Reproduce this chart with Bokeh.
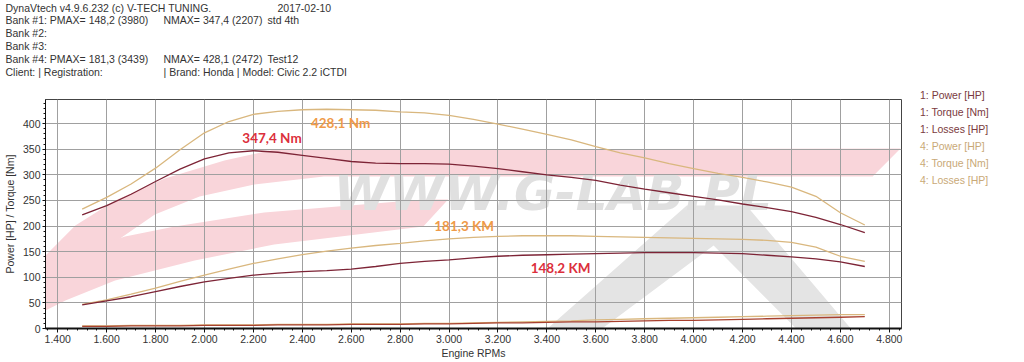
from bokeh.plotting import figure
from bokeh.models import Range1d, FixedTicker, Label, Legend, LegendItem
from bokeh.layouts import column, row
from bokeh.core.properties import value
from bokeh.embed import file_html
from bokeh.resources import INLINE

# ---------------- data ----------------
rpm = [1500, 1600, 1700, 1800, 1900, 2000, 2100, 2200, 2300, 2400, 2500,
       2600, 2700, 2800, 2900, 3000, 3100, 3200, 3300, 3400, 3500, 3600,
       3700, 3800, 3900, 4000, 4100, 4200, 4300, 4400, 4500, 4600, 4700]

power_1 = [46, 54, 62, 72, 82, 91, 98, 104, 108, 111, 113, 116, 121, 127, 131, 134,
           138, 141, 143, 144, 145, 146, 147, 148, 148, 148, 147, 146, 143, 140, 136, 130, 121]
torque_1 = [222, 240, 262, 287, 311, 331, 343, 347, 344, 338, 332, 326, 323, 322, 322, 321,
            317, 312, 306, 300, 295, 289, 280, 272, 265, 258, 251, 243, 236, 228, 217, 203, 187]
losses_1 = [4, 4, 5, 5, 5, 6, 6, 6, 7, 7, 7, 8, 8, 8, 9, 9, 10, 11, 11, 12, 13, 13,
            14, 15, 16, 16, 17, 18, 19, 20, 21, 22, 23]

power_4 = [47, 56, 67, 79, 92, 104, 116, 127, 136, 144, 151, 157, 162, 166, 171, 175,
           178, 180, 181, 181, 181, 180, 179, 178, 177, 176, 175, 174, 172, 168, 159, 141, 131]
torque_4 = [233, 256, 282, 313, 349, 382, 404, 418, 424, 427, 428, 427, 426, 423, 421, 416,
            408, 399, 389, 379, 368, 355, 343, 333, 322, 312, 303, 295, 286, 276, 258, 226, 202]
losses_4 = [5, 5, 6, 6, 6, 7, 7, 7, 8, 8, 8, 9, 9, 9, 10, 10, 11, 12, 13, 14, 15, 17,
            18, 19, 20, 21, 22, 23, 24, 25, 26, 27, 27]

x_ticks = [1400, 1600, 1800, 2000, 2200, 2400, 2600, 2800, 3000, 3200, 3400,
           3600, 3800, 4000, 4200, 4400, 4600, 4800]
x_tick_labels = ["1.400", "1.600", "1.800", "2.000", "2.200", "2.400", "2.600", "2.800", "3.000",
                 "3.200", "3.400", "3.600", "3.800", "4.000", "4.200", "4.400", "4.600", "4.800"]
y_ticks = [0, 50, 100, 150, 200, 250, 300, 350, 400]

legend_1 = ["1: Power [HP]", "1: Torque [Nm]", "1: Losses [HP]"]
legend_4 = ["4: Power [HP]", "4: Torque [Nm]", "4: Losses [HP]"]

header_lines = [
    ["DynaVtech v4.9.6.232 (c) V-TECH TUNING.", "", "2017-02-10"],
    ["Bank #1: PMAX= 148,2 (3980)", "NMAX= 347,4 (2207)", "std 4th"],
    ["Bank #2:", "", ""],
    ["Bank #3:", "", ""],
    ["Bank #4: PMAX= 181,3 (3439)", "NMAX= 428,1 (2472)", "Test12"],
    ["Client:  | Registration:", "| Brand: Honda | Model: Civic 2.2 iCTDI", ""],
]

peak_labels = ["347,4 Nm", "428,1 Nm", "181,3 KM", "148,2 KM"]

# decorative watermark outline (window pixels)
wm_pink_a_x = [40, 70, 110, 160, 220, 270, 900, 872, 320, 250, 195, 150, 115, 85, 60, 40]
wm_pink_a_y = [255, 225, 200, 178, 160, 149, 148, 176, 176, 184, 196, 214, 238, 265, 292, 305]
wm_pink_b_x = [40, 120, 170, 260, 420, 445, 420, 270, 190, 110, 60, 40]
wm_pink_b_y = [262, 236, 226, 212, 199, 199, 226, 244, 260, 280, 300, 310]
wm_grey_x = [545, 685, 745, 850, 795, 712, 600]
wm_grey_y = [328, 205, 205, 328, 328, 245, 328]

# ---------------- geometry (window pixels) ----------------
TOTAL_W, TOTAL_H = 1024, 362
HEAD_H = 86
MAIN_W = 903
FL, FT, FR, FB = 40, 99, 901, 328
X0, X1, Y0, Y1 = 1350, 4850, 0, 447


def wx(xw):
    return X0 + (xw - FL) * (X1 - X0) / (FR - FL)


def wy(yw):
    return Y0 + (FB - yw) * (Y1 - Y0) / (FB - FT)


FONT = "'Liberation Sans', Arial, sans-serif"
TXT = "#333333"

# ---------------- header ----------------
hdr = figure(width=MAIN_W, height=HEAD_H, x_range=Range1d(0, MAIN_W), y_range=Range1d(HEAD_H, 0),
             output_backend="svg", toolbar_location=None, title=None,
             x_axis_location=None, y_axis_location=None, min_border=0)
hdr.grid.visible = False
hdr.outline_line_color = None
col_x = [5, 163, 267]
hx, hy, ht = [], [], []
for i, r in enumerate(header_lines):
    for j, t in enumerate(r):
        if t:
            hx.append(277 if (i == 0 and j == 2) else col_x[j])
            hy.append(7 + 12.9 * i)
            ht.append(t)
hdr.text(x=hx, y=hy, text=ht, text_font=value(FONT), text_font_size="10.5px",
         text_color=TXT, text_baseline="middle", text_align="left")

# ---------------- main plot ----------------
MAIN_H = TOTAL_H - HEAD_H
p = figure(width=MAIN_W, height=MAIN_H, x_range=Range1d(X0, X1), y_range=Range1d(Y0, Y1),
           output_backend="svg", toolbar_location=None, title=None,
           min_border_left=FL, min_border_right=MAIN_W - FR, min_border_top=FT - HEAD_H,
           min_border_bottom=TOTAL_H - FB)
p.background_fill_color = "white"
p.border_fill_color = "white"
p.outline_line_color = "#444444"
p.outline_line_width = 1

# watermark
p.patch([wx(v) for v in wm_pink_a_x], [wy(v) for v in wm_pink_a_y],
        fill_color="#f9d5da", line_color=None, level="image")
p.patch([wx(v) for v in wm_pink_b_x], [wy(v) for v in wm_pink_b_y],
        fill_color="#f9d5da", line_color=None, level="image")
p.patch([wx(v) for v in wm_grey_x], [wy(v) for v in wm_grey_y],
        fill_color="#e4e4e4", line_color=None, level="image")
p.text(x=[wx(330)], y=[wy(192)], text=["WWW.G-LAB.PL"], text_font=value("DejaVu Sans"),
       text_font_size="50px", text_font_style="bold italic", text_color="#e0e0e0",
       text_baseline="middle", text_align="left", level="image")

# axes
p.xaxis.ticker = FixedTicker(ticks=x_ticks, minor_ticks=list(range(1360, 4850, 40)))
p.xaxis.major_label_overrides = dict(zip(x_ticks, x_tick_labels))
p.yaxis.ticker = FixedTicker(ticks=y_ticks, minor_ticks=list(range(0, 447, 10)))
for ax in (p.xaxis[0], p.yaxis[0]):
    ax.axis_line_color = "#111111"
    ax.major_tick_line_color = "#111111"
    ax.minor_tick_line_color = "#111111"
    ax.major_tick_in = 0
    ax.minor_tick_in = 0
    ax.major_label_text_font = FONT
    ax.major_label_text_font_size = "10.5px"
    ax.major_label_text_color = TXT
    ax.axis_label_text_font = FONT
    ax.axis_label_text_font_size = "10.5px"
    ax.axis_label_text_font_style = "normal"
    ax.axis_label_text_color = TXT
p.xaxis.axis_label = "Engine RPMs"
p.yaxis.axis_label = "Power [HP] / Torque [Nm]"
p.xaxis.axis_line_width = 2
p.xaxis.major_tick_out = 4
p.xaxis.minor_tick_out = 2
p.xaxis.major_label_standoff = 2
p.xaxis.axis_label_standoff = 1
p.yaxis.major_tick_out = 3
p.yaxis.minor_tick_out = 2
p.yaxis.major_label_standoff = 2
p.yaxis.axis_label_standoff = 4

p.xgrid.grid_line_color = "#a0a0a0"
p.ygrid.grid_line_color = "#a0a0a0"

# series
C1 = "#7d2436"
C1L = "#a8402f"
C4 = "#d9b77e"
p.line(rpm, losses_4, line_color=C4, line_width=1.3)
p.line(rpm, losses_1, line_color=C1L, line_width=1.3)
p.line(rpm, power_4, line_color=C4, line_width=1.3)
p.line(rpm, torque_4, line_color=C4, line_width=1.3)
p.line(rpm, power_1, line_color=C1, line_width=1.3)
p.line(rpm, torque_1, line_color=C1, line_width=1.3)

# peak annotations
peak_pos = [(238, 137.5, "#dc2f3c"), (307, 122.5, "#ef9a48"),
            (431, 225, "#ef9a48"), (528, 267.5, "#dc2f3c")]
for txt, (px, py, col) in zip(peak_labels, peak_pos):
    p.add_layout(Label(x=wx(px), y=wy(py), text=txt, text_font="Lato", text_font_size="13.5px",
                       text_font_style="bold", text_color=col, text_baseline="middle",
                       text_align="left"))

# ---------------- legend panel (full height) ----------------
LEG_W = TOTAL_W - MAIN_W
lg_fig = figure(width=LEG_W, height=TOTAL_H, x_range=Range1d(0, 1), y_range=Range1d(0, 1),
                output_backend="svg", toolbar_location=None, title=None,
                x_axis_location=None, y_axis_location=None, min_border=0)
lg_fig.grid.visible = False
lg_fig.outline_line_color = None


def make_legend(labels, colors, text_col, ybottom):
    items = []
    for lab, c in zip(labels, colors):
        r = lg_fig.line([], [], line_color=c, line_width=1.5)
        items.append(LegendItem(label=lab, renderers=[r]))
    lg = Legend(items=items, location=(3, ybottom), orientation="vertical")
    lg.label_text_font = FONT
    lg.label_text_font_size = "10.5px"
    lg.label_text_color = text_col
    lg.glyph_width = 9
    lg.glyph_height = 17
    lg.label_height = 17
    lg.label_standoff = 5
    lg.padding = 0
    lg.spacing = 0
    lg.margin = 0
    lg.border_line_color = None
    lg.background_fill_alpha = 0
    return lg


lg_fig.add_layout(make_legend(legend_1, [C1, C1, C1], "#7a3a40", TOTAL_H - 137.5))
lg_fig.add_layout(make_legend(legend_4, [C4, C4, C4], "#c9a977", TOTAL_H - 188.5))

layout = row(column(row(hdr, spacing=0), p, spacing=0), lg_fig, spacing=0)
open("out.html", "w").write(file_html(layout, INLINE))
